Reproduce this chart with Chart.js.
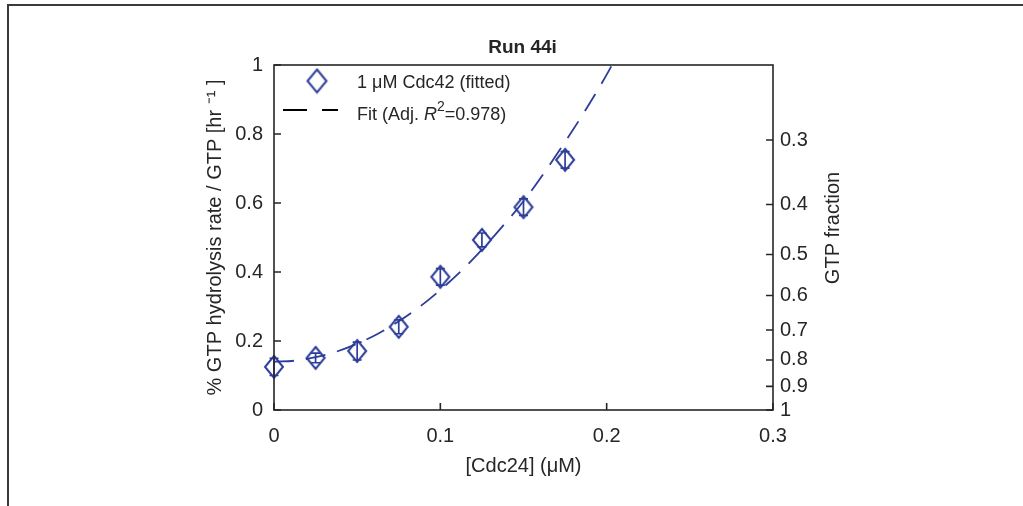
<!DOCTYPE html>
<html>
<head>
<meta charset="utf-8">
<script src="https://cdn.jsdelivr.net/npm/chart.js@4.4.1/dist/chart.umd.min.js"></script>
<style>
  body { margin: 0; background: #fff; }
  #frame { position: absolute; left: 7px; top: 4px; width: 1030px; height: 520px;
           border-top: 2px solid #3a3a3a; border-left: 2px solid #3a3a3a; }
  #wrap { position: absolute; left: 0; top: 0; width: 1023px; height: 506px; }
</style>
</head>
<body>
<div id="frame"></div>
<div id="wrap"><canvas id="chart" width="1023" height="506"></canvas></div>
<script>
// measured points
const cdc24 = [0, 0.025, 0.05, 0.075, 0.1, 0.125, 0.15, 0.175];
const rate = [0.125, 0.151, 0.171, 0.241, 0.386, 0.493, 0.588, 0.725];
const rateErr = [0.025, 0.014, 0.026, 0.02, 0.024, 0.02, 0.024, 0.024];

// fit curve
const fitX = [0, 0.0125, 0.025, 0.0375, 0.05, 0.0625, 0.075, 0.0875, 0.1, 0.1125, 0.125, 0.1375, 0.15, 0.1625, 0.175, 0.1875, 0.2, 0.21];
const fitY = [0.14, 0.143, 0.153, 0.169, 0.192, 0.221, 0.257, 0.299, 0.348, 0.403, 0.465, 0.533, 0.605, 0.688, 0.777, 0.871, 0.972, 1.06];

const xTicks = [0, 0.1, 0.2, 0.3];
const yTicks = [0, 0.2, 0.4, 0.6, 0.8, 1];
const gtpTicks = [0.3, 0.4, 0.5, 0.6, 0.7, 0.8, 0.9, 1];
const gtpScale = 0.65; // rate = -gtpScale * ln(fraction)

const blue = '#2c3c98';
const ink = '#262626';
const font = '"Liberation Sans", Arial, sans-serif';

// tall diamond marker like matlab's
function diamond(w, h, color) {
  const c = document.createElement('canvas');
  c.width = w + 4; c.height = h + 4;
  const g = c.getContext('2d');
  g.strokeStyle = color; g.lineWidth = 2;
  const cx = c.width / 2, cy = c.height / 2;
  g.beginPath();
  g.moveTo(cx, cy - h / 2); g.lineTo(cx + w / 2, cy);
  g.lineTo(cx, cy + h / 2); g.lineTo(cx - w / 2, cy);
  g.closePath(); g.stroke();
  return c;
}
const marker = diamond(18, 22, blue);
const legendMarker = diamond(19, 23, blue);

const axesDeco = {
  id: 'axesDeco',
  afterDatasetsDraw(chart) {
    const ctx = chart.ctx;
    const a = chart.chartArea;
    const xs = chart.scales.x, ys = chart.scales.y, y2 = chart.scales.y2;

    // error bars
    ctx.save();
    ctx.strokeStyle = blue; ctx.lineWidth = 1.7;
    cdc24.forEach((x, i) => {
      const px = xs.getPixelForValue(x);
      const top = ys.getPixelForValue(rate[i] + rateErr[i]);
      const bot = ys.getPixelForValue(rate[i] - rateErr[i]);
      ctx.beginPath();
      ctx.moveTo(px, top); ctx.lineTo(px, bot);
      ctx.moveTo(px - 4.5, top); ctx.lineTo(px + 4.5, top);
      ctx.moveTo(px - 4.5, bot); ctx.lineTo(px + 4.5, bot);
      ctx.stroke();
    });
    ctx.restore();

    // box + inward ticks
    ctx.save();
    ctx.strokeStyle = ink; ctx.lineWidth = 1.6;
    ctx.strokeRect(a.left, a.top, a.right - a.left, a.bottom - a.top);
    ctx.beginPath();
    yTicks.forEach(v => {
      const p = ys.getPixelForValue(v);
      ctx.moveTo(a.left, p); ctx.lineTo(a.left + 7, p);
    });
    xTicks.forEach(v => {
      const p = xs.getPixelForValue(v);
      ctx.moveTo(p, a.bottom); ctx.lineTo(p, a.bottom - 7);
    });
    gtpTicks.forEach(f => {
      const p = y2.getPixelForValue(-gtpScale * Math.log(f));
      ctx.moveTo(a.right, p); ctx.lineTo(a.right - 7, p);
    });
    ctx.stroke();

    // right axis title, reads bottom to top
    ctx.fillStyle = ink;
    ctx.font = '20px ' + font;
    ctx.textAlign = 'center'; ctx.textBaseline = 'middle';
    ctx.translate(833, 228);
    ctx.rotate(-Math.PI / 2);
    ctx.fillText('GTP fraction', 0, 0);
    ctx.restore();

    // legend (box off)
    ctx.save();
    ctx.drawImage(legendMarker, 317 - legendMarker.width / 2, 81 - legendMarker.height / 2);
    ctx.strokeStyle = '#000'; ctx.lineWidth = 1.8;
    ctx.setLineDash([24, 15]);
    ctx.beginPath(); ctx.moveTo(283, 110); ctx.lineTo(338, 110); ctx.stroke();
    ctx.setLineDash([]);
    ctx.fillStyle = ink;
    ctx.textBaseline = 'middle'; ctx.textAlign = 'left';
    ctx.font = '18px ' + font;
    ctx.fillText('1 \u03BCM Cdc42 (fitted)', 357, 83);
    let x = 357;
    const part = (t, f, dy) => { ctx.font = f; ctx.fillText(t, x, 115 + dy); x += ctx.measureText(t).width; };
    part('Fit (Adj. ', '18px ' + font, 0);
    part('R', 'italic 18px ' + font, 0);
    part('2', '14px ' + font, -8);
    part('=0.978)', '18px ' + font, 0);
    ctx.restore();
  }
};

new Chart(document.getElementById('chart'), {
  type: 'line',
  data: {
    datasets: [
      {
        label: '1 \u03BCM Cdc42 (fitted)',
        data: cdc24.map((x, i) => ({ x: x, y: rate[i] })),
        showLine: false,
        pointStyle: marker,
        borderColor: blue,
        clip: false
      },
      {
        label: 'Fit',
        data: fitX.map((x, i) => ({ x: x, y: fitY[i] })),
        borderColor: blue,
        borderWidth: 1.8,
        borderDash: [20, 12],
        pointRadius: 0,
        cubicInterpolationMode: 'monotone',
        fill: false
      }
    ]
  },
  options: {
    responsive: false,
    animation: false,
    layout: { padding: { left: 200, right: 178, bottom: 28, top: 0 } },
    plugins: {
      legend: { display: false },
      tooltip: { enabled: false },
      title: {
        display: true,
        text: 'Run 44i',
        color: ink,
        font: { family: font, size: 19, weight: 'bold' },
        padding: { top: 36, bottom: 6.2 }
      }
    },
    scales: {
      x: {
        type: 'linear', min: 0, max: 0.3,
        afterFit: s => { s.height = 68; },
        afterBuildTicks: s => { s.ticks = xTicks.map(v => ({ value: v })); },
        grid: { display: false, drawTicks: false },
        border: { display: false },
        ticks: { color: ink, font: { family: font, size: 20 }, padding: 14, maxRotation: 0,
                 callback: v => String(v) },
        title: { display: true, text: '[Cdc24] (\u03BCM)', color: ink,
                 font: { family: font, size: 20 }, padding: { top: 4, bottom: 0 } }
      },
      y: {
        position: 'left', min: 0, max: 1,
        afterFit: s => { s.width = 74; },
        afterBuildTicks: s => { s.ticks = yTicks.map(v => ({ value: v })); },
        grid: { display: false, drawTicks: false },
        border: { display: false },
        ticks: { color: ink, font: { family: font, size: 20 }, padding: 11,
                 callback: v => String(v) },
        title: { display: true, text: '% GTP hydrolysis rate / GTP [hr \u207B\u00B9 ]', color: ink,
                 font: { family: font, size: 20 }, padding: { top: 3, bottom: 4 } }
      },
      y2: {
        position: 'right', min: 0, max: 1,
        afterFit: s => { s.width = 72; },
        afterBuildTicks: s => { s.ticks = gtpTicks.map(f => ({ value: -gtpScale * Math.log(f) })); },
        grid: { display: false, drawTicks: false },
        border: { display: false },
        ticks: { color: ink, font: { family: font, size: 20 }, padding: 7, autoSkip: false,
                 callback: function (v, i) { return String(gtpTicks[i]); } }
      }
    }
  },
  plugins: [axesDeco]
});
</script>
</body>
</html>
